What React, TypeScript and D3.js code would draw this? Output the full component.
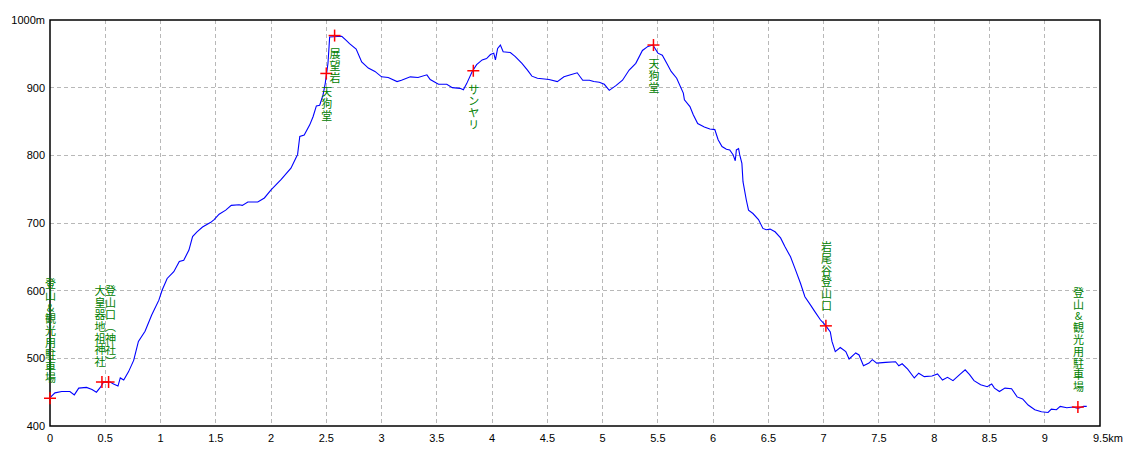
import * as d3 from 'd3';

// Distance along the route (km) and elevation (m)
const distKm = [
	0.0, 0.045, 0.106, 0.18, 0.22, 0.26, 0.33, 0.38, 0.42, 0.455, 0.485, 0.545, 0.575, 0.615, 0.636,
	0.667, 0.71, 0.757, 0.8, 0.86, 0.92, 0.985, 1.015, 1.06, 1.12, 1.17, 1.21, 1.257, 1.29, 1.33,
	1.38, 1.455, 1.485, 1.53, 1.59, 1.64, 1.71, 1.74, 1.79, 1.88, 1.94, 2.0, 2.09, 2.18, 2.23, 2.24,
	2.26, 2.3, 2.35, 2.38, 2.41, 2.44, 2.47, 2.49, 2.515, 2.525, 2.53, 2.64, 2.68, 2.71, 2.77, 2.82,
	2.88, 2.94, 3.0, 3.06, 3.14, 3.18, 3.26, 3.33, 3.41, 3.44, 3.515, 3.59, 3.64, 3.71, 3.74, 3.77,
	3.82, 3.86, 3.91, 3.95, 3.985, 4.015, 4.03, 4.05, 4.075, 4.1, 4.165, 4.21, 4.27, 4.32, 4.36,
	4.41, 4.515, 4.59, 4.65, 4.71, 4.77, 4.82, 4.88, 4.92, 4.97, 5.015, 5.06, 5.12, 5.18, 5.24, 5.3,
	5.36, 5.41, 5.455, 5.5, 5.54, 5.58, 5.62, 5.67, 5.73, 5.74, 5.79, 5.82, 5.86, 5.92, 5.97, 6.015,
	6.045, 6.08, 6.12, 6.15, 6.18, 6.2, 6.21, 6.23, 6.24, 6.26, 6.27, 6.3, 6.32, 6.36, 6.41, 6.45,
	6.48, 6.515, 6.56, 6.61, 6.65, 6.7, 6.74, 6.79, 6.83, 6.88, 6.92, 6.97, 7.015, 7.06, 7.075,
	7.105, 7.15, 7.2, 7.23, 7.29, 7.32, 7.36, 7.41, 7.44, 7.48, 7.56, 7.65, 7.68, 7.71, 7.76, 7.82,
	7.86, 7.91, 7.98, 8.03, 8.075, 8.12, 8.17, 8.23, 8.28, 8.32, 8.36, 8.42, 8.48, 8.52, 8.545, 8.59,
	8.64, 8.7, 8.75, 8.8, 8.85, 8.91, 8.97, 9.03, 9.06, 9.106, 9.14, 9.2, 9.257, 9.3, 9.35, 9.38,
];
const elevM = [
	442, 449, 451, 451, 446, 456, 457, 454, 450, 457, 465, 465, 462, 459, 471,
	468, 480, 497, 525, 540, 564, 586, 601, 618, 628, 643, 645, 660, 680, 687,
	694, 701, 705, 713, 719, 726, 727, 726, 731, 731, 737, 749, 764, 781, 798, 801,
	828, 830, 845, 857, 873, 874, 889, 906, 936, 961, 975, 976, 970, 965, 957, 938,
	929, 924, 916, 915, 909, 911, 916, 915, 919, 912, 905, 905, 900, 899, 897, 906,
	924, 934, 941, 943, 949, 951, 941, 958, 963, 953, 952, 946, 936, 926, 917,
	914, 912, 909, 916, 919, 922, 911, 911, 909, 908, 905, 896, 903, 911, 926, 936,
	955, 961, 963, 951, 948, 936, 924, 914, 892, 882, 872, 860, 847, 842, 839, 838,
	823, 813, 809, 808, 801, 792, 808, 810, 801, 788, 761, 734, 719, 714, 705, 692,
	690, 691, 687, 678, 665, 650, 633, 611, 591, 579, 569, 557, 549, 539, 525,
	510, 516, 510, 499, 508, 505, 489, 493, 498, 493, 494, 495, 489, 492, 484, 471,
	478, 473, 474, 477, 468, 472, 467, 476, 483, 476, 467, 461, 458, 462, 456, 451,
	456, 455, 443, 440, 431, 424, 421, 420, 425, 424, 429, 427, 428, 426, 429, 429,
];

// Waypoints
const pointNames = [
	'登山&観光用駐車場',
	'大皇器地祖神社',
	'登山口(神社)',
	'天狗堂',
	'展望岩',
	'サンヤリ',
	'天狗堂',
	'岩尾谷登山口',
	'登山&観光用駐車場',
];
const pointKm = [0, 0.47, 0.53, 2.5, 2.575, 3.83, 5.46, 7.02, 9.3];
const pointM = [441, 465, 465, 921, 977, 925, 963, 548, 428];

const xTicks = d3.range(0, 9.51, 0.5);
const yTicks = [400, 500, 600, 700, 800, 900, 1000];

const W = 1140;
const H = 456;

const verticalForm = (c: string) => (c === '(' ? '︵' : c === ')' ? '︶' : c);

export default function App() {
	const x = d3.scaleLinear().domain([0, 9.5]).range([50, 1100]);
	const y = d3.scaleLinear().domain([400, 1000]).range([426, 20]);

	const line = d3
		.line<number>()
		.x((d) => x(d))
		.y((_, i) => y(elevM[i]));

	const tickFont = '"Liberation Sans", Arial, sans-serif';
	const jpFont = '"Noto Sans CJK JP", sans-serif';
	const step = 11.8;

	// nudge labels of waypoints that sit very close together so the columns don't collide
	const nudge = pointKm.map((k, i) => {
		const prevClose = i > 0 && k - pointKm[i - 1] < 0.1 && Math.abs(pointM[i] - pointM[i - 1]) < 20;
		const nextClose =
			i < pointKm.length - 1 && pointKm[i + 1] - k < 0.1 && Math.abs(pointM[i] - pointM[i + 1]) < 20;
		return nextClose ? -2 : prevClose ? 2 : 0.5;
	});

	return (
		<svg
			width={W}
			height={H}
			style={{ position: 'absolute', left: 0, top: 0, background: '#fff' }}
		>
			{/* grid */}
			<g stroke="#b8b8b8" strokeWidth={1} strokeDasharray="4,3" shapeRendering="crispEdges">
				{xTicks.slice(1, -1).map((t) => (
					<line key={'gx' + t} x1={x(t)} x2={x(t)} y1={y(1000)} y2={y(400)} />
				))}
				{yTicks.slice(1, -1).map((t) => (
					<line key={'gy' + t} x1={x(0)} x2={x(9.5)} y1={y(t)} y2={y(t)} />
				))}
			</g>

			{/* frame */}
			<rect
				x={x(0)}
				y={y(1000)}
				width={x(9.5) - x(0)}
				height={y(400) - y(1000)}
				fill="none"
				stroke="#000"
				strokeWidth={1.5}
			/>

			{/* tick labels */}
			<g fontFamily={tickFont} fontSize={11} fill="#000">
				{yTicks.map((t) => (
					<text key={'ly' + t} x={45} y={y(t)} textAnchor="end" dominantBaseline="central">
						{t === 1000 ? '1000m' : t}
					</text>
				))}
				{xTicks.map((t) =>
					t === 9.5 ? (
						<text key={'lx' + t} x={x(t) - 7} y={438} dominantBaseline="central">
							9.5km
						</text>
					) : (
						<text key={'lx' + t} x={x(t)} y={438} textAnchor="middle" dominantBaseline="central">
							{t}
						</text>
					),
				)}
			</g>

			{/* profile */}
			<path d={line(distKm) ?? ''} fill="none" stroke="#0000ff" strokeWidth={1.1} />

			{/* waypoints */}
			{pointNames.map((name, i) => {
				const px = x(pointKm[i]);
				const py = y(pointM[i]);
				const chars = Array.from(name).map(verticalForm);
				const below = pointM[i] > 850;
				return (
					<g key={'p' + i}>
						<g stroke="#ff0000" strokeWidth={1.5}>
							<line x1={px - 6} x2={px + 6} y1={py} y2={py} />
							<line x1={px} x2={px} y1={py - 6} y2={py + 6} />
						</g>
						<g fontFamily={jpFont} fontSize={11} fill="#008000">
							{chars.map((c, j) => {
								const cy = below
									? py + 12 + step / 2 + j * step
									: py - 15 - step / 2 - (chars.length - 1 - j) * step;
								return (
									<text
										key={j}
										x={px + nudge[i]}
										y={cy}
										textAnchor="middle"
										dominantBaseline="central"
									>
										{c}
									</text>
								);
							})}
						</g>
					</g>
				);
			})}
		</svg>
	);
}
